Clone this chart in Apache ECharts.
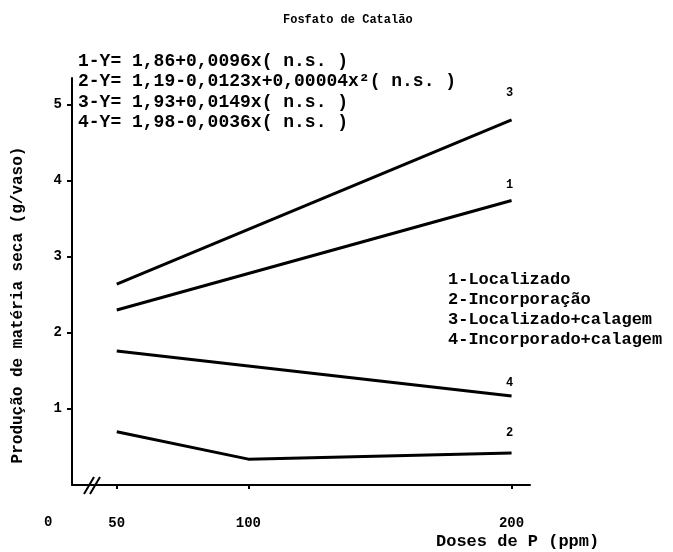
<!DOCTYPE html>
<html>
<head>
<meta charset="utf-8">
<script src="https://cdn.jsdelivr.net/npm/echarts@6/dist/echarts.min.js"></script>
<style>html,body{margin:0;padding:0;background:#fff}#c{width:673px;height:552px}</style>
</head>
<body>
<div id="c"></div>
<script>
const doses = [50, 100, 200];
const xTickLabels = [50, 100, 200];
const yTickLabels = [1, 2, 3, 4, 5];
const seriesNames = ['1-Localizado', '2-Incorporação', '3-Localizado+calagem', '4-Incorporado+calagem'];
const endTags = ['1', '2', '3', '4'];
// [dose, value]
const s1 = [[50, 2.30], [200, 3.74]];
const s2 = [[50, 0.70], [100, 0.34], [200, 0.42]];
const s3 = [[50, 2.64], [200, 4.80]];
const s4 = [[50, 1.76], [200, 1.17]];
const equations = [
  '1-Y= 1,86+0,0096x( n.s. )',
  '2-Y= 1,19-0,0123x+0,00004x²( n.s. )',
  '3-Y= 1,93+0,0149x( n.s. )',
  '4-Y= 1,98-0,0036x( n.s. )'
];
const titleText = 'Fosfato de Catalão';
const xName = 'Doses de P (ppm)';
const yName = 'Produção de matéria seca (g/vaso)';
const originLabel = '0';

const FONT = '"Liberation Mono", "DejaVu Sans Mono", monospace';
const chart = echarts.init(document.getElementById('c'));
const allData = [s1, s2, s3, s4];
const tagDist = [15, 20, 27, 13];

function mkSeries(i) {
  return {
    name: seriesNames[i], type: 'line', data: allData[i], symbol: 'none', silent: true,
    lineStyle: {color: '#000', width: 3}, itemStyle: {color: '#000'}, animation: false,
    endLabel: {show: true, formatter: endTags[i], align: 'center', verticalAlign: 'middle',
      offset: [-10, -tagDist[i]], fontFamily: FONT, fontWeight: 'bold', fontSize: 12, color: '#000'}
  };
}

chart.setOption({
  animation: false,
  backgroundColor: '#fff',
  grid: {left: 72, right: 143, top: 78, bottom: 67},
  legend: {
    data: seriesNames.map(n => ({name: n, icon: 'none'})),
    orient: 'vertical', left: 438, top: 266, itemWidth: 0, itemHeight: 10, itemGap: 3,
    selectedMode: false,
    textStyle: {fontFamily: FONT, fontWeight: 'bold', fontSize: 17, color: '#000', padding: 0}
  },
  xAxis: {
    type: 'value', min: 33, max: 207,
    splitLine: {show: false},
    axisLine: {lineStyle: {color: '#000', width: 2}},
    axisTick: {customValues: xTickLabels, length: 4, lineStyle: {color: '#000', width: 2}},
    axisLabel: {customValues: xTickLabels, margin: 31, fontFamily: FONT, fontWeight: 'bold', fontSize: 14, color: '#000'}
  },
  yAxis: {
    type: 'value', min: 0, max: 5.35,
    splitLine: {show: false},
    axisLine: {lineStyle: {color: '#000', width: 2}},
    axisTick: {customValues: yTickLabels, length: 5, lineStyle: {color: '#000', width: 2}},
    axisLabel: {customValues: yTickLabels, margin: 10, fontFamily: FONT, fontWeight: 'bold', fontSize: 14, color: '#000'}
  },
  graphic: [
    {type: 'text', left: 283, top: 14, style: {text: titleText, font: 'bold 12px ' + FONT, fill: '#000'}},
    {type: 'text', left: 78, top: 51, style: {text: equations.join('\n'), font: 'bold 18px ' + FONT, lineHeight: 20.5, fill: '#000'}},
    {type: 'text', left: 44, top: 515, style: {text: originLabel, font: 'bold 14px ' + FONT, fill: '#000'}},
    {type: 'text', left: 436, top: 533, style: {text: xName, font: 'bold 17px ' + FONT, fill: '#000'}},
    {type: 'text', x: 18, y: 305, rotation: Math.PI / 2, style: {text: yName, font: 'bold 16px ' + FONT, fill: '#000', align: 'center', verticalAlign: 'middle'}},
    {type: 'rect', shape: {x: 84, y: 482, width: 16, height: 6}, style: {fill: '#fff'}},
    {type: 'line', shape: {x1: 84, y1: 494, x2: 94, y2: 477}, style: {stroke: '#000', lineWidth: 2}},
    {type: 'line', shape: {x1: 90, y1: 494, x2: 100, y2: 477}, style: {stroke: '#000', lineWidth: 2}}
  ],
  series: [0, 1, 2, 3].map(mkSeries)
});
</script>
</body>
</html>
